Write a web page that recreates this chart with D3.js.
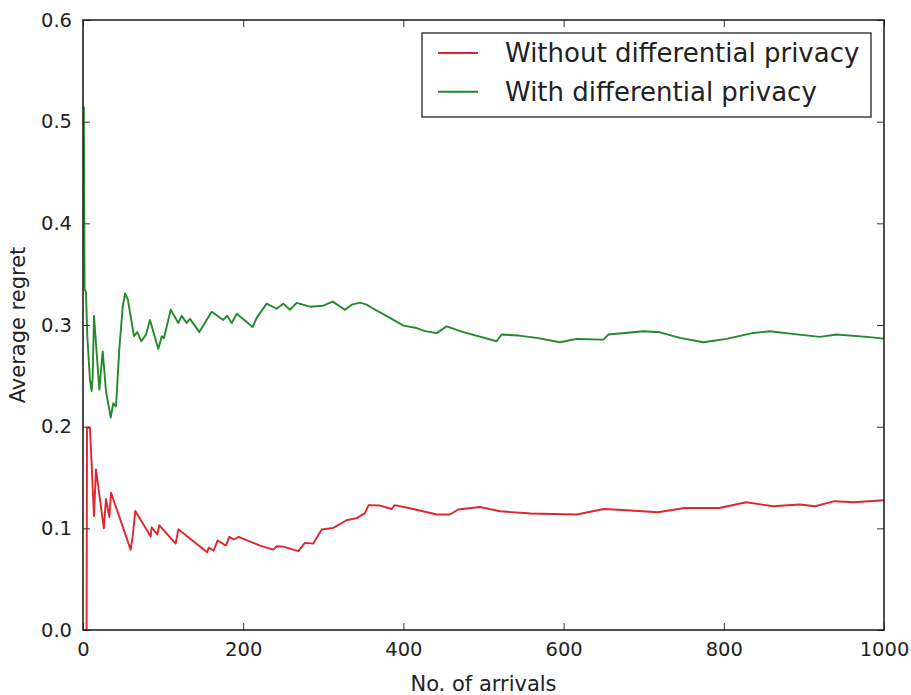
<!DOCTYPE html>
<html>
<head>
<meta charset="utf-8">
<script src="https://cdn.jsdelivr.net/npm/d3@7"></script>
<style>
  body { margin: 0; background: #fff; }
  text { font-family: "DejaVu Sans", sans-serif; fill: #222; }
</style>
</head>
<body>
<svg id="chart" width="911" height="695"></svg>
<script>
// values
var seriesNames = ["Without differential privacy", "With differential privacy"];
var seriesColors = ["#de262c", "#23892a"];

var noDpArrivals = [1, 4.5, 5, 8.7, 13.7, 16.2, 26, 28.7, 32.9, 35, 59.5, 62, 65.3, 84.5, 85.7, 92.8, 95.3, 115.7, 119,
    155, 157, 163, 168, 178.5, 182.6, 188.5, 194.4, 221, 237.6, 241.8, 250, 268.8, 277, 287.5, 298, 312.5, 329,
    341.7, 352, 356.5, 370.8, 385.4, 389, 412.4, 441.6, 458, 468.6, 495.6, 520.6, 559, 616.6, 650.2, 679, 717.5,
    751, 794.3, 827.9, 861.5, 895, 914, 938.3, 962.3, 1000];
var noDpRegret = [0, 0, 0.199, 0.199, 0.112, 0.158, 0.100, 0.129, 0.111, 0.135, 0.079, 0.092, 0.117, 0.092, 0.101,
    0.094, 0.103, 0.085, 0.099, 0.0765, 0.081, 0.078, 0.088, 0.083, 0.0916, 0.089, 0.0916, 0.083, 0.079, 0.0824,
    0.082, 0.0775, 0.0857, 0.085, 0.0988, 0.1005, 0.108, 0.110, 0.115, 0.1228, 0.1224, 0.119, 0.1228, 0.119,
    0.1136, 0.1136, 0.1185, 0.121, 0.1168, 0.1146, 0.1136, 0.119, 0.1178, 0.1158, 0.120, 0.120, 0.1257, 0.1217,
    0.1234, 0.1217, 0.1267, 0.1257, 0.1276];

var dpArrivals = [1, 2, 3.7, 5.4, 8.7, 10.8, 12.1, 13.7, 16.2, 20.4, 24.6, 28.7, 34.6, 37.8, 41.2, 45.3, 49.6, 52.6,
    56, 63.7, 67.8, 72.8, 78.7, 83.6, 94, 98.3, 101, 109.5, 119, 123.2, 129.4, 133.6, 145.2, 160.7, 175, 180,
    185.6, 192, 211.8, 216.8, 229.3, 241.8, 250, 258.4, 266.8, 283.4, 300, 311.7, 327, 335.5, 345.8, 354.2, 360.4,
    383.3, 400, 416.6, 427, 441.6, 454, 474.8, 516.4, 522.6, 544.5, 566.4, 595.5, 616.4, 649.6, 655.9, 699.6,
    720.4, 745.3, 774.4, 803.5, 836.8, 857.7, 882.6, 920, 941, 978.4, 1000];
var dpRegret = [0.515, 0.335, 0.332, 0.289, 0.246, 0.235, 0.25, 0.309, 0.282, 0.2365, 0.274, 0.235, 0.209, 0.223,
    0.220, 0.276, 0.318, 0.331, 0.325, 0.289, 0.293, 0.284, 0.2906, 0.305, 0.2765, 0.289, 0.287, 0.315, 0.302,
    0.309, 0.302, 0.306, 0.293, 0.313, 0.305, 0.309, 0.302, 0.311, 0.298, 0.307, 0.321, 0.316, 0.321, 0.315,
    0.3217, 0.318, 0.319, 0.323, 0.315, 0.320, 0.322, 0.320, 0.317, 0.307, 0.2994, 0.297, 0.294, 0.292, 0.2987,
    0.293, 0.284, 0.2906, 0.2896, 0.2873, 0.283, 0.2863, 0.2856, 0.2906, 0.2938, 0.2928, 0.2873, 0.283, 0.2863,
    0.2922, 0.2938, 0.2915, 0.2883, 0.2906, 0.2883, 0.2866];

var xTicks = [0, 200, 400, 600, 800, 1000];
var yTicks = [0.0, 0.1, 0.2, 0.3, 0.4, 0.5, 0.6];

(function() {
    var mLeft = 83, mRight = 884, mTop = 20, mBottom = 630;

    var svg = d3.select("#chart");

    var x = d3.scaleLinear().domain([0, 1000]).range([mLeft, mRight]);
    var y = d3.scaleLinear().domain([0, 0.6]).range([mBottom, mTop]);

    // clip so lines stay inside the frame
    svg.append("clipPath").attr("id", "plotclip")
        .append("rect").attr("x", mLeft).attr("y", mTop).attr("width", mRight - mLeft).attr("height", mBottom - mTop);

    var line = d3.line().x(function(d) { return x(d[0]); }).y(function(d) { return y(d[1]); });

    var data = [
        d3.zip(noDpArrivals, noDpRegret),
        d3.zip(dpArrivals, dpRegret)
    ];

    svg.append("g").attr("clip-path", "url(#plotclip)")
        .selectAll("path").data(data).enter()
        .append("path")
            .attr("d", line)
            .attr("fill", "none")
            .attr("stroke", function(d, i) { return seriesColors[i]; })
            .attr("stroke-width", 1.9)
            .attr("stroke-linejoin", "round");

    // axes, ticks point inwards on all four sides
    var bottomAxis = d3.axisBottom(x).tickValues(xTicks).tickSizeInner(-7).tickSizeOuter(0).tickPadding(12).tickFormat(d3.format("d"));
    var topAxis = d3.axisTop(x).tickValues(xTicks).tickSizeInner(-7).tickSizeOuter(0).tickFormat("");
    var leftAxis = d3.axisLeft(y).tickValues(yTicks).tickSizeInner(-7).tickSizeOuter(0).tickPadding(11).tickFormat(d3.format(".1f"));
    var rightAxis = d3.axisRight(y).tickValues(yTicks).tickSizeInner(-7).tickSizeOuter(0).tickFormat("");

    function styleAxis(g) {
        g.select(".domain").remove();
        g.selectAll(".tick line").attr("stroke", "#333").attr("stroke-width", 1);
        g.selectAll(".tick text").style("font-family", "DejaVu Sans, sans-serif").style("font-size", "19.5px").attr("fill", "#333");
    }

    svg.append("g").attr("transform", "translate(0," + mBottom + ")").call(bottomAxis).call(styleAxis);
    svg.append("g").attr("transform", "translate(0," + mTop + ")").call(topAxis).call(styleAxis);
    svg.append("g").attr("transform", "translate(" + mLeft + ",0)").call(leftAxis).call(styleAxis);
    svg.append("g").attr("transform", "translate(" + mRight + ",0)").call(rightAxis).call(styleAxis);

    svg.append("rect")
        .attr("x", mLeft).attr("y", mTop).attr("width", mRight - mLeft).attr("height", mBottom - mTop)
        .attr("fill", "none").attr("stroke", "#222").attr("stroke-width", 1.6);

    // axis labels
    svg.append("text")
        .attr("x", (mLeft + mRight) / 2).attr("y", 691)
        .attr("text-anchor", "middle")
        .style("font-size", "21px")
        .text("No. of arrivals");

    svg.append("text")
        .attr("transform", "translate(25," + ((mTop + mBottom) / 2) + ") rotate(-90)")
        .attr("text-anchor", "middle")
        .style("font-size", "21px")
        .text("Average regret");

    // legend
    var legend = svg.append("g");
    legend.append("rect")
        .attr("x", 422).attr("y", 33).attr("width", 449).attr("height", 84)
        .attr("fill", "#fff").attr("stroke", "#222").attr("stroke-width", 1.3);

    var rows = legend.selectAll("g.row").data(seriesNames).enter()
        .append("g").attr("class", "row")
        .attr("transform", function(d, i) { return "translate(0," + (53 + i * 38.7) + ")"; });
    rows.append("line")
        .attr("x1", 438).attr("x2", 478).attr("y1", 0).attr("y2", 0)
        .attr("stroke", function(d, i) { return seriesColors[i]; })
        .attr("stroke-width", 1.9);
    rows.append("text")
        .attr("x", 505).attr("y", 0).attr("dy", "0.35em")
        .style("font-size", "26px")
        .text(function(d) { return d; });
})();
</script>
</body>
</html>
